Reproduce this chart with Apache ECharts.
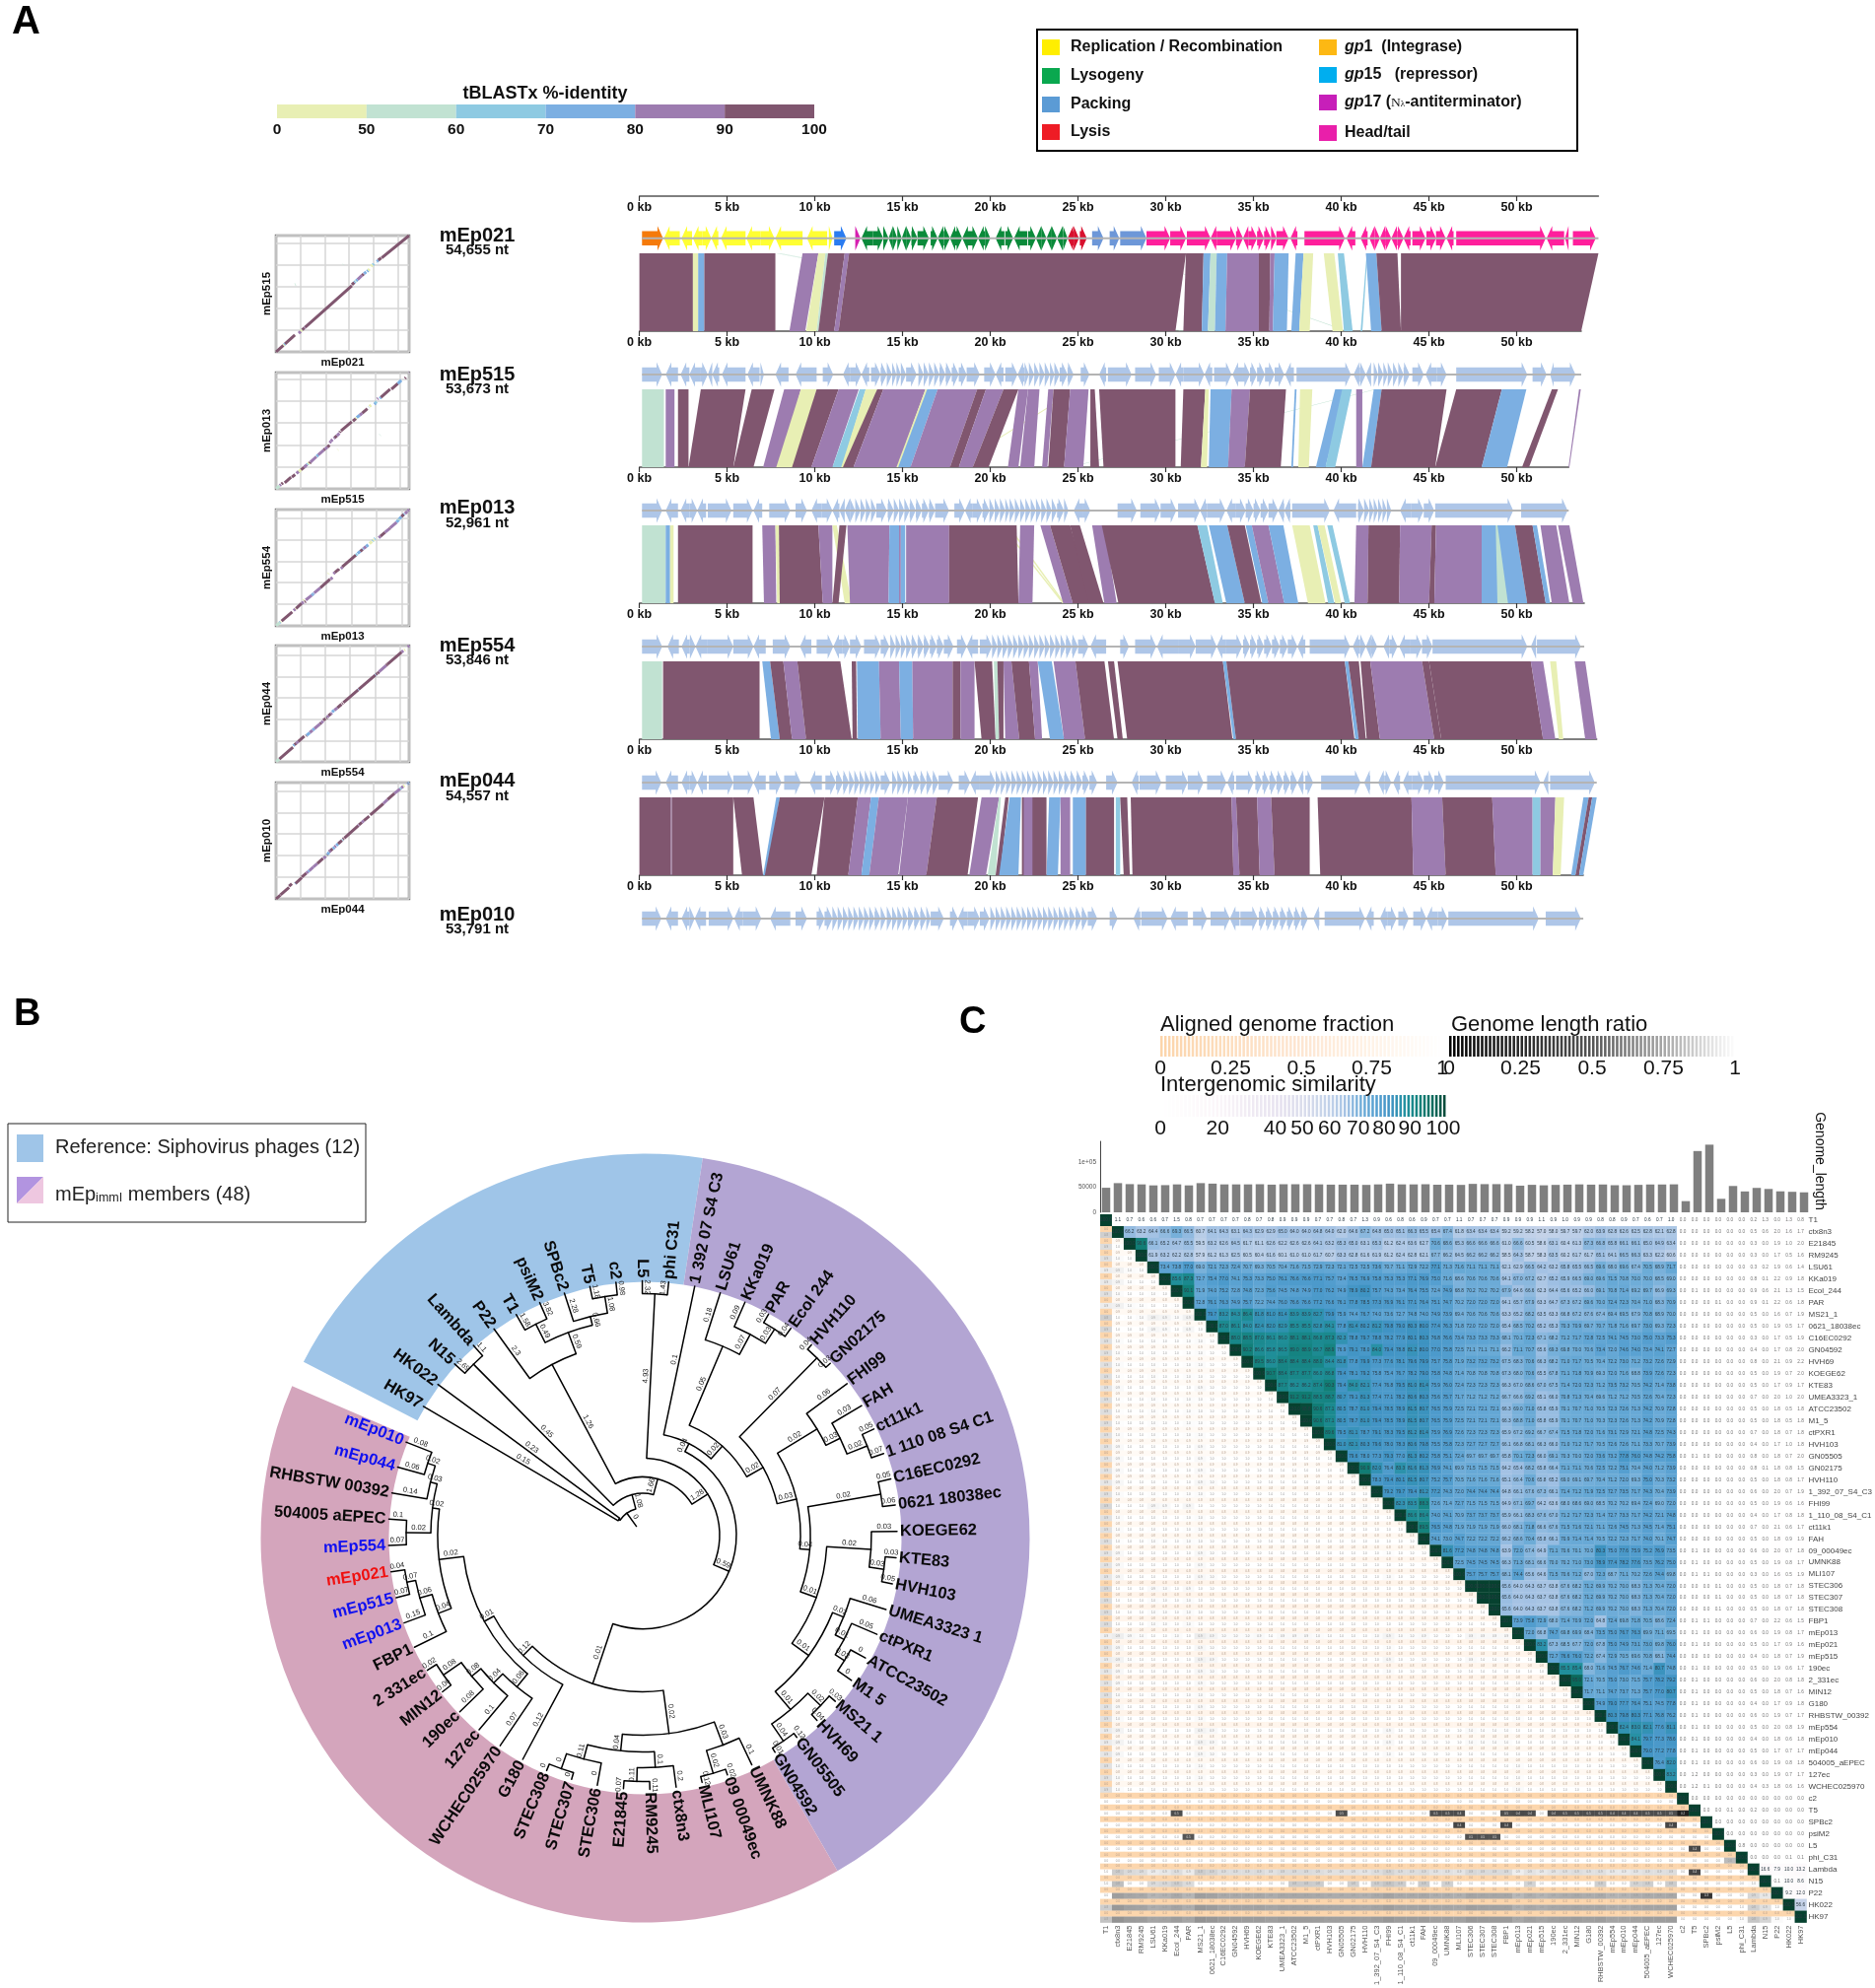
<!DOCTYPE html>
<html><head><meta charset="utf-8"><style>html,body{margin:0;padding:0;background:#fff}#c{width:1902px;height:2017px}</style>
<script src="https://cdn.jsdelivr.net/npm/echarts@6/dist/echarts.min.js"></script></head><body><div id="c"></div>
<script>
const FONT='"Liberation Sans",Arial,sans-serif';
// ---------- Panel A data ----------
const identityTicks=['0','50','60','70','80','90','100'];
const identityColors=['#e8efb4','#c1e2d2','#8ecae2','#7cafe2','#9d7cb0','#80566f'];
const genomeNames=['mEp021','mEp515','mEp013','mEp554','mEp044','mEp010'];
const genomeSizesKb=[54.655,53.673,52.961,53.846,54.557,53.791];
const genomeSizeLabels=['54,655 nt','53,673 nt','52,961 nt','53,846 nt','54,557 nt','53,791 nt'];
const kbTicks=[0,5,10,15,20,25,30,35,40,45,50];
// ribbons: [query start, query end, subject start, subject end, identity class]
const ribbons1=[[7.8,7.9,31,31.05,1],[7.95,8.05,31,31.05,1],[27.6,27.65,40.3,40.4,1],[0,3.05,0,3.05,5],[3.05,3.35,3.05,3.35,0],[3.35,3.7,3.35,3.7,3],[3.7,7.75,3.7,7.75,5],[9.3,10.2,8.55,9.45,4],[10.2,10.6,9.5,10.1,0],[10.6,10.75,10.1,10.2,1],[10.75,11.7,10.2,11.1,5],[11.7,11.95,11.1,11.35,4],[11.95,31.15,11.35,30.55,5],[31.15,32.15,31,32.05,5],[32.15,32.55,32.05,32.4,3],[32.55,32.9,32.4,32.8,1],[32.9,33.5,32.8,33.4,3],[33.5,35.3,33.4,35.3,4],[35.3,35.95,35.3,35.9,5],[35.95,36.2,35.9,36.1,4],[36.2,37,36.1,36.9,3],[37.4,37.85,37.15,37.6,3],[37.85,38.4,37.6,38.2,0],[39,39.6,39.5,40.1,0],[39.8,40.15,40.15,40.65,2],[41.45,41.5,41.1,41.2,2],[41.4,42,41.7,42.3,3],[42,43.2,42.3,43.4,5],[43.4,54.655,43.4,53.673,5]];
const ribbons2=[[41.9,42,24.5,24.6,1],[24.9,25,17.8,17.9,0],[0.15,1.4,0.15,1.4,1],[1.5,2,1.5,2,4],[2.2,2.8,2.2,2.8,5],[3.5,6.05,2.8,5.35,5],[6.4,7.7,5.35,6.5,5],[8.25,9.2,7.05,8.05,4],[9.2,10.1,7.8,8.8,0],[10.1,11.35,8.7,9.8,5],[11.35,11.9,9.8,10.35,4],[11.5,12.5,10,11,4],[12.55,12.9,11,11.55,2],[12.9,13.55,11.5,12,0],[13.55,13.9,11.6,12.2,5],[13.9,16.3,12.2,14.7,4],[16.3,16.45,14.65,14.85,0],[16.4,17,14.75,15.45,3],[17,19.25,15.45,17.7,4],[19.25,19.75,17.7,18.2,5],[19.75,20.75,18.2,19,4],[20.75,21.6,19,19.9,5],[21.6,22.15,21,21.6,4],[22.15,22.8,21.7,22.5,4],[23.3,23.6,22.95,23.25,4],[23.6,24.55,23.3,24.2,5],[24.55,25.6,24.2,25.3,4],[25.7,25.95,25.7,26.2,5],[26.2,30.55,26.45,30.55,5],[31,32.25,30.85,32,5],[32.25,32.45,32,32.35,0],[32.55,33.75,32.45,33.55,3],[33.75,34.8,33.55,34.5,4],[34.8,36.85,34.5,36.55,5],[37.35,37.45,37.15,37.25,3],[37.65,38.35,37.55,38.15,0],[39.65,40.2,38.55,39.1,3],[40.05,40.6,39.1,39.65,2],[40.85,41.2,40.85,41.2,4],[41.85,42.3,41.2,41.7,3],[42.3,46,41.7,45.35,5],[46.55,49.15,45.35,48,5],[49.15,50.55,48,49.45,3],[52,52.35,50.3,50.7,5],[53.55,53.65,52.95,53,4]];
const ribbons3=[[20.6,20.7,24.1,24.2,0],[20.95,21.05,24.15,24.25,0],[0.15,1.5,0.15,1.5,1],[1.5,1.75,1.5,1.75,3],[1.75,1.95,1.75,1.95,0],[2.2,6.45,2.2,6.45,5],[7,7.75,7.1,7.8,4],[7.75,7.95,7.85,8.05,0],[7.95,10.2,8,10.45,5],[10.2,11,10.45,11,4],[11,11.25,11.7,12.1,0],[11.4,11.8,11,11.35,5],[11.85,14.25,12,14.2,4],[14.25,14.8,14.2,14.8,3],[14.8,14.9,14.8,14.9,4],[14.9,15.15,14.9,15.15,3],[15.2,17.65,15.2,17.65,4],[17.65,21.5,17.65,21.6,5],[21.7,22.5,21.6,22.4,4],[22.85,23.4,24.15,24.7,4],[23.4,24.55,24.7,25.8,5],[24.55,25.1,25.6,26.45,5],[25.8,26.5,26.5,27.2,4],[26.35,31.8,27.3,32.8,5],[31.8,32.35,32.8,33.25,2],[32.45,33.5,33.45,34.5,3],[33.5,34.5,34.5,35.45,5],[34.55,34.9,35.5,35.85,3],[34.9,35.85,35.85,36.75,4],[35.85,36.7,36.75,37.55,3],[37.2,38.2,38.1,39.1,0],[38.4,38.65,39.25,39.6,2],[38.65,39.05,39.65,40,0],[39.2,39.5,40.2,40.5,2],[40.85,41.55,40.75,41.5,4],[41.55,43.35,41.5,43.3,5],[43.35,45.15,43.3,45,4],[45.15,45.4,45,45.3,5],[45.4,48,45.3,48,4],[48,49.9,48,50.6,3],[48.8,48.9,48.9,49.5,1],[49.9,50.9,50.6,51.65,5],[50.9,51.15,51.65,51.9,3],[51.35,52.25,52,53,4],[52.35,53,53.2,53.8,4]];
const ribbons4=[[0.15,1.3,0.15,1.3,1],[1.35,6.85,1.35,6.85,5],[7,7.45,7.5,8,3],[7.45,8.2,8,8.7,5],[8.2,9,8.7,9.5,4],[9,11.45,9.5,12.1,5],[12.1,12.35,12.15,12.4,5],[12.4,13.65,12.45,13.75,3],[13.65,14.8,13.75,14.9,4],[14.8,15.55,14.9,15.6,3],[15.55,17.85,15.6,17.85,4],[17.85,18.3,17.85,18.3,5],[18.3,19.1,18.3,19.1,4],[19.1,20.1,19.5,20.3,5],[20.2,20.4,20.3,20.5,1],[20.4,20.75,20.5,20.75,5],[20.75,21.2,20.85,21.65,4],[21.2,22.2,21.65,22.55,5],[22.2,22.7,22.55,22.95,4],[22.7,23.5,23.4,24.2,3],[23.6,24.85,24.2,25.4,4],[24.85,26.5,25.4,27.05,5],[26.7,27.05,27.25,27.55,5],[27.25,33.25,27.8,33.8,5],[33.25,33.45,33.85,34,3],[33.45,40.2,34,40.75,5],[40.2,40.4,40.8,41,3],[40.4,41,41,41.4,5],[41.1,41.65,41.45,42.2,5],[41.65,44.6,42.2,45.3,4],[44.6,45,45.3,45.7,5],[45,50.8,45.7,51.5,5],[50.8,51.5,51.5,52.2,4],[51.9,52.25,52.4,52.65,0],[53.3,53.9,53.9,54.557,4]];
const ribbons5=[[0,1.8,0,1.8,5],[1.8,1.85,1.8,1.85,4],[1.85,5.35,1.85,5.35,5],[5.35,6.5,5.85,7.05,5],[7.8,8,7.05,7.25,3],[8,10.55,7.15,9.8,5],[10.55,12.45,10.1,11.9,5],[12.45,13.2,11.9,12.65,4],[13.2,13.65,12.65,13.1,3],[13.65,15.3,13.1,14.75,4],[15.3,16.95,14.8,16.35,4],[16.95,19.3,16.35,18.7,5],[19.5,20.5,18.8,19.75,4],[20.5,20.6,19.85,20.3,1],[20.85,21.05,20.3,20.55,5],[21.1,21.75,20.5,21.6,3],[21.8,23.2,21.8,23.2,5],[21.9,22.4,21.9,22.4,4],[23.35,24,23.2,23.85,3],[24,24.55,24,24.55,4],[24.7,25.45,24.7,25.45,3],[25.45,27.05,25.45,27.05,5],[27.15,27.4,27.15,27.4,2],[27.4,27.8,27.6,27.95,5],[28,33.75,28.1,33.85,5],[33.75,34,33.85,34.2,4],[34,35.2,34.2,35.35,5],[35.2,36,35.35,36.2,4],[36,38.2,36.2,38.2,5],[38.65,44,38.8,44.1,5],[44,45.75,44.1,45.95,4],[45.75,48.6,45.95,48.8,5],[48.6,50.9,48.8,50.9,4],[50.9,51.35,50.9,51.35,2],[51.35,52.2,51.35,52.05,4],[52.2,52.7,52.05,52.5,0],[53.8,54.1,53.1,53.35,3],[54.1,54.3,53.35,53.55,5],[54.3,54.557,53.55,53.791,3]];
const geneColors=['#f57a0a','#ffff33','#2b7cf0','#d61fb0','#0a8a3a','#d8102e','#6d97d8','#ff1f9c','#aec6e8'];
// genes: [start, end, strand (default +), colour class (default light blue)]
const genes1=[[0.15,1.35,1,0],[1.4,2.3,-1,1],[2.4,3,-1,1],[3.05,3.6,-1,1],[3.6,4.1,1,1],[4.1,4.5,-1,1],[4.65,6.05,-1,1],[6.1,6.9,-1,1],[6.9,7.7,1,1],[7.75,9.3,-1,1],[9.55,10.7,-1,1],[10.8,11,1,1],[11.1,11.8,1,2],[12.3,12.6,1,3],[12.65,13.3,-1,4],[13.3,13.9,1,4],[13.9,14.2,1,4],[14.2,14.45,-1,4],[14.45,14.7,1,4],[14.7,14.95,1,4],[14.95,15.2,-1,4],[15.2,15.5,1,4],[15.5,15.85,1,4],[15.85,16.5,1,4],[16.6,17,1,4],[17,17.35,-1,4],[17.35,17.7,1,4],[17.7,18,-1,4],[18,18.4,1,4],[18.4,18.9,-1,4],[18.9,19.3,1,4],[19.3,19.7,-1,4],[19.7,20,1,4],[20.3,20.8,-1,4],[20.85,21.3,1,4],[21.35,22.1,-1,4],[22.15,22.6,1,4],[22.6,22.9,-1,4],[22.9,23.2,1,4],[23.2,23.5,-1,4],[23.5,23.8,1,4],[23.8,24.15,-1,4],[24.15,24.4,1,4],[24.4,24.75,-1,5],[24.75,25.05,1,5],[25.1,25.5,1,5],[25.8,26.45,1,6],[26.8,27.35,1,6],[27.4,28.9,1,6],[28.9,30.25,1,7],[30.25,31.15,1,7],[31.2,32.55,1,7],[32.55,32.9,-1,7],[32.9,34,1,7],[34,34.4,1,7],[34.4,34.7,-1,7],[34.7,35.2,1,7],[35.2,35.6,1,7],[35.6,36,1,7],[36,36.3,1,7],[36.3,37,1,7],[37.1,37.5,-1,7],[37.9,40.2,1,7],[40.3,40.8,-1,7],[41.1,41.5,-1,7],[41.6,41.9,-1,7],[41.9,42.2,1,7],[42.2,42.5,-1,7],[42.5,42.85,1,7],[42.85,43.2,-1,7],[43.2,43.55,1,7],[43.55,43.95,-1,7],[44.05,44.8,1,7],[44.85,45.4,1,7],[45.4,45.95,1,7],[46,46.4,-1,7],[46.55,51.65,1,7],[51.7,52.7,-1,7],[52.75,52.95,-1,7],[53.2,54.5,1,7]];
const genes2=[[0.15,1.3],[1.5,2.2,-1],[2.35,2.85,-1],[2.85,3.5,-1],[3.5,3.9],[3.9,4.15,-1],[4.15,4.55,-1],[4.7,6.05,-1],[6.15,6.85,-1],[6.9,7.1],[7.75,8.5,-1],[8.9,10.1,-1],[10.45,11.05],[11.6,12,-1],[12,12.65],[12.65,13.1,-1],[13.2,13.75],[13.75,14.1],[14.1,14.4],[14.4,14.65],[14.65,14.9],[14.9,15.2],[15.2,15.8],[15.9,16.2],[16.2,16.5],[16.5,16.8],[16.8,17.1],[17.1,17.45],[17.45,17.8],[17.8,18.2],[18.2,18.65],[18.65,19.4],[19.65,20.3],[20.3,20.75,-1],[20.85,21.55],[21.55,21.95,-1],[21.95,22.2],[22.2,22.5],[22.5,22.8],[22.8,23.1],[23.1,23.4],[23.4,23.65],[23.65,23.95],[23.95,24.4],[24.4,24.75],[25.15,25.65],[26.2,26.6,-1],[26.7,28.05],[28.25,29.45],[29.6,30.55],[30.55,31,-1],[31,32.2],[32.2,32.65,-1],[32.75,33.75],[33.8,34.35,-1],[34.35,34.8],[34.8,35.2],[35.2,35.65],[35.65,36.2],[36.2,36.75],[36.8,37.3,-1],[37.45,40.55],[40.7,41.05,-1],[41.05,41.4],[41.4,41.7,-1],[41.85,42.1],[42.1,42.4],[42.4,42.65],[42.65,42.95],[42.95,43.25],[43.25,43.55],[43.55,43.9],[44.05,44.7],[44.8,45.45,-1],[45.45,46],[46.55,50.6],[50.9,51.7],[51.9,52.1,-1],[52.1,53.35]];
const genes3=[[0.15,1.3],[1.5,2.2,-1],[2.35,2.85,-1],[2.85,3.3],[3.3,3.8,-1],[3.9,5.25],[5.35,6.45],[6.5,7,-1],[7.4,8.6],[8.9,9.55],[9.8,10.4,-1],[10.4,11],[11,11.4,-1],[11.4,11.7,-1],[11.7,12,-1],[12,12.3],[12.3,12.6],[12.6,12.9],[12.9,13.2],[13.2,13.5],[13.5,14.1],[14.15,14.5],[14.5,14.8],[14.8,15.1],[15.1,15.4],[15.4,15.75],[15.75,16.1],[16.1,16.5],[16.5,16.85],[16.85,17.65],[17.95,18.55],[18.55,19,-1],[19,19.55],[19.55,19.95],[19.95,20.25],[20.25,20.55],[20.55,20.85],[20.85,21.1],[21.1,21.4],[21.4,21.7],[21.7,22],[22,22.3],[22.3,22.6],[22.6,22.9],[22.9,23.2],[23.2,23.5],[23.5,23.8],[23.8,24.2],[24.2,24.45],[24.75,25.25,-1],[25.25,25.7],[27.25,28.35],[28.55,29.7],[29.7,30.6],[30.7,31.95],[31.95,32.35,-1],[32.35,33.4],[33.45,34,-1],[34,34.55],[34.55,35],[35,35.4],[35.4,35.85],[35.85,36.4],[36.4,36.75,-1],[36.75,37.1,-1],[37.2,39.35],[39.55,40.85,-1],[40.95,41.3],[41.3,41.6],[41.6,41.85],[41.85,42.1],[42.1,42.35],[42.35,42.6],[42.6,42.85],[43.35,44,-1],[44,44.7],[44.7,45.3],[45.35,49.8],[50.25,52.9]];
const genes4=[[0.15,1.3],[1.6,2.25,-1],[2.4,2.85,-1],[2.85,3.2],[3.2,3.85,-1],[3.85,5.35],[5.35,6.5],[6.5,7.2,-1],[7.6,8.6],[9.15,9.8,-1],[10.1,11.05],[11.05,11.55,-1],[11.55,12],[12,12.65],[12.8,13.75],[13.75,14.25],[14.3,14.6],[14.6,14.9],[14.9,15.2],[15.2,15.5],[15.5,15.85],[15.85,16.2],[16.2,16.55],[16.55,16.95],[16.95,17.35],[17.35,17.9],[18.1,18.65],[18.65,19.3,-1],[19.4,20.1],[20.1,20.4],[20.4,20.7],[20.7,21],[21,21.3],[21.3,21.6],[21.6,21.9],[21.9,22.2],[22.2,22.5],[22.5,22.8],[22.8,23.1],[23.1,23.4],[23.4,23.7],[23.7,24],[24,24.3],[24.3,24.65],[24.65,25],[25,25.6],[25.7,26.6,-1],[27.4,27.9],[28.25,29.45],[29.5,30.7,-1],[30.7,31.7],[31.7,32.9],[32.9,33.4,-1],[33.4,34.35],[34.4,34.8],[34.8,35.2],[35.2,35.6],[35.6,36.05],[36.05,36.5],[36.5,36.95],[36.95,37.5],[37.5,37.95,-1],[38.2,40.5],[40.65,41.05,-1],[41.05,41.4],[41.4,41.7,-1],[41.7,42.05],[42.4,42.75,-1],[42.75,43.2],[43.3,43.95,-1],[43.95,44.6],[44.6,45.2],[45.2,50.6],[50.8,51.1,-1],[51.15,53.65]];
const genes5=[[0.15,1.25],[1.5,2.2,-1],[2.4,2.85,-1],[2.85,3.3],[3.3,3.85,-1],[3.95,5.35],[5.35,6.5],[6.5,7.2,-1],[7.4,8.1],[8.25,9.2],[9.7,10.4,-1],[10.6,11.2],[11.2,11.6],[11.6,11.95],[11.95,12.25],[12.25,12.55],[12.55,12.85],[12.85,13.15],[13.15,13.45],[13.45,13.75],[13.75,14.3],[14.4,14.7],[14.7,15],[15,15.3],[15.3,15.6],[15.6,16],[16,16.35],[16.35,16.7],[16.7,17.05],[17.05,17.9],[18.2,18.85],[18.85,19.4,-1],[19.4,20.3],[20.3,20.6],[20.6,20.9],[20.9,21.2],[21.2,21.5],[21.5,21.8],[21.8,22.1],[22.1,22.4],[22.4,22.7],[22.7,23],[23,23.3],[23.3,23.6],[23.6,23.9],[23.9,24.2],[24.2,24.55],[24.55,24.9],[24.9,25.25],[25.25,25.65],[25.65,26.1],[26.6,27.25],[28.05,28.45,-1],[28.5,29.75],[30,31.25],[31.25,32.15],[32.35,33.45],[33.5,33.9,-1],[34,35],[35.1,35.5],[35.5,35.9],[35.9,36.3],[36.3,36.7],[36.7,37.1],[37.1,37.5],[37.5,37.85,-1],[37.95,38.4],[38.85,41.1],[41.3,41.65,-1],[42.1,42.45,-1],[42.45,42.85],[42.95,43.35,-1],[43.5,44.05,-1],[44.05,44.7],[44.7,45.3],[45.3,45.85],[45.95,51.35],[51.5,51.8,-1],[51.9,54.45]];
const genes6=[[0.15,1.25],[1.5,2.2,-1],[2.4,2.85,-1],[2.85,3.15],[3.15,3.8,-1],[3.95,5.35],[5.4,5.9,-1],[5.9,6.95],[7.45,8.6,-1],[8.9,9.55],[10.1,10.55],[10.55,11],[11,11.3],[11.3,11.6],[11.6,11.9],[11.9,12.2],[12.2,12.5],[12.5,12.8],[12.8,13.1],[13.1,13.4],[13.4,13.75],[13.75,14.05],[14.1,14.4],[14.4,14.7],[14.7,15],[15,15.3],[15.3,15.65],[15.65,16],[16,16.35],[16.35,16.6],[16.6,17.35],[17.7,18.15],[18.15,18.7,-1],[18.7,19.4],[19.4,19.95],[20,20.3],[20.3,20.6],[20.6,20.9],[20.9,21.2],[21.2,21.5],[21.5,21.8],[21.8,22.1],[22.1,22.4],[22.4,22.7],[22.7,23],[23,23.3],[23.3,23.6],[23.6,23.9],[23.9,24.2],[24.2,24.5],[24.5,24.85],[24.85,25.2],[25.2,25.55],[25.55,26.1],[26.8,27.25],[28.15,28.55,-1],[28.6,30.1],[30.25,31.25,-1],[31.55,32.35],[32.55,33.65],[33.65,34.2,-1],[34.25,35.25],[35.3,35.7],[35.7,36.1],[36.1,36.5],[36.5,36.9],[36.9,37.3],[37.3,37.7],[37.7,38.1],[38.4,38.75,-1],[39.05,41.35],[41.4,41.85,-1],[42.2,42.65,-1],[42.65,43.15],[43.25,43.85],[44.1,44.85],[44.85,45.5,-1],[45.5,46.05],[46.1,51.25],[51.65,53.65]];
// ---------- Panel B data ----------
const cladeSpans=[71.3,141.4,143.3,4];
const cladeColors=['#9fc5e8','#b3a5d3','#d4a5bc','rgba(0,0,0,0)'];
const highlightBlue=['mEp010','mEp044','mEp554','mEp515','mEp013'];
const highlightRed=['mEp021'];
// tree node: [branch label, node radius, ...children]; leaf: [branch label, name]
const treeRoot=['0',27.5,
 ['',29,['0.15','HK97'],['0.23','HK022']],
 ['1.08',42.5,
  ['0.45',244,['2.69','N15'],['1.1','Lambda']],
  ['1.66',59,
   ['1.26',196,['2.3','P22'],['0.59',219,['0.49',240,['1.58','T1'],['3.82','psiM2']],['0.66',228,['2.28','SPBc2'],['1.08',245,['1.18','T5'],['0.98','c2']]]]],
   ['1.28',78,
    ['4.93',245,['2.32','L5'],['1.43','phi C31']],
    ['0.59',95,
     ['0.04',104,['0.1','1 392 07 S4 C3'],
      ['0.02',121,
       ['0.05',208,['0.18','LSU61'],['0.07',231,['0.09','KKa019'],['0.03',248,['0.03','PAR'],['0.04','Ecol 244']]]],
       ['0.02',140,
        ['0.07',252,['0.04','HVH110'],['0.03','GN02175']],
        ['0.03',160,
         ['0.02',207,['0.06','FHI99'],['0.03',223,['0.03','FAH'],['0.02',245,['0.05','ct11k1'],['0.07','1 110 08 S4 C1']]]],
         ['0.04',170,
          ['0.02',245,['0.05','C16EC0292'],['0.06','0621 18038ec']],
          ['0.01',187,
           ['0.02',232,['0.03','KOEGE62'],['0.03',247,['0.03','KTE83'],['0.05','HVH103']]],
           ['0.01',208,
            ['0.02',220,['0.06','UMEA3323 1'],['0.01',230,['0.05','ctPXR1'],['0.03',241,['0','ATCC23502'],['0','M1 5']]]],
            ['0.01',232,['0.02',250,['0.03','MS21 1'],['0.04','HVH69']],['0.04',253,['0.12','GN05505'],['0.01','GN04592']]]
           ]]]]]]],
     ['0.01',159,
      ['0.02',203,
       ['0.03',228,['0.1','UMNK88'],['0.02',252,['0.02','09 00049ec'],['0.12','MLI107']]],
       ['0.04',220,['0.1',236,['0.2','ctx8n3'],['0.11',250,['0.11','RM9245'],['0.07','E21845']]],['0.11',235,['0','STEC306'],['0',251,['0','STEC307'],['0','STEC308']]]]],
      ['0.12',172,['0.12','G180'],
       ['0.01',183,
        ['0.06',200,['0.07','WCHEC025970'],['0.04',213,['0.1','127ec'],['0.08',225,['0.08','190ec'],['0.08',247,['0.06','MIN12'],['0.02','2 331ec']]]]],
        ['0.02',208,
         ['0.04',222,['0.1','FBP1'],['0.06',235,['0.15','mEp013'],['0.07',244,['0.07','mEp515'],['0.04','mEp021']]]],
         ['0.02',215,['0.02',240,['0.07','mEp554'],['0.1','504005 aEPEC']],['0.03',222,['0.14','RHBSTW 00392'],['0.02',230,['0.06','mEp044'],['0.08','mEp010']]]]
        ]]]]]]]]];
const leafFirstAngle=149.6, leafAngleStep=5.95, leafTipRadius=258, rootRadius=11;
// ---------- Panel C data ----------
const phageNames=['T1','ctx8n3','E21845','RM9245','LSU61','KKa019','Ecol_244','PAR','MS21_1','0621_18038ec','C16EC0292','GN04592','HVH69','KOEGE62','KTE83','UMEA3323_1','ATCC23502','M1_5','ctPXR1','HVH103','GN05505','GN02175','HVH110','1_392_07_S4_C3','FHI99','1_110_08_S4_C1','ct11k1','FAH','09_00049ec','UMNK88','MLI107','STEC306','STEC307','STEC308','FBP1','mEp013','mEp021','mEp515','190ec','2_331ec','MIN12','G180','RHBSTW_00392','mEp554','mEp010','mEp044','504005_aEPEC','127ec','WCHEC025970','c2','T5','SPBc2','psiM2','L5','phi_C31','Lambda','N15','P22','HK022','HK97'];
const genomeLengths=[48800,58000,56000,55500,53500,54000,55500,53500,58000,57000,55500,55500,55500,55800,55000,55800,55800,55800,55500,55000,55000,55000,54500,55500,57000,55500,55500,55800,54800,55000,54500,56500,56000,56000,56000,52961,54655,53673,54500,55000,55500,55000,55300,53846,53791,54557,55300,55300,55600,22200,121750,134400,26800,52300,41500,48500,46400,41700,40750,39700];
// similarity of row r with columns r+1 .. 48
const simRows=[
[1.1,.7,.6,.6,.7,1.5,.8,.7,.7,.7,.7,.8,.7,.8,.9,.9,.9,.7,.7,.8,.7,1.3,.9,.6,.8,.6,.9,.7,.7,1.1,.7,.7,.7,.9,.9,.9,1.1,.9,1,.9,.9,.8,.8,.9,.7,.6,.7,1],
[66.2,63.2,64.4,66.6,69.3,66.5,60.7,64.1,64.3,63.1,64.3,62.9,62.9,65,64,64,64.8,64,62,64.6,67.2,64.8,65,65.1,66.3,65.5,65.4,67.4,61.8,63.4,63.4,63.4,59.2,59.2,58.2,57,58,59.7,59.7,62,63.9,62.8,62.6,62.5,62.8,62.1,62.8],
[90.6,66.1,65.2,64.7,65.5,59.5,63.2,62.6,64.5,61.7,61.1,62.6,62.2,62.6,62.6,64.1,63.2,65.3,65,63.1,65.3,61.2,62.4,63.6,62.7,70.6,68.6,65.3,66.6,66.6,66.6,61,66.6,60.5,58.6,63.1,60.4,61.3,67.3,66.8,65.8,66.1,66.1,65,64.9,63.4],
[61.9,63.2,62.2,62.8,57.9,61.2,61.3,62.5,60.5,60.4,61.6,60.1,61,61,61.7,60.7,63.3,62.8,61.6,61.9,61.2,62.4,62.8,62.1,67.7,66.2,64.5,66.2,66.2,66.2,58.5,64.3,58.7,58.3,63.5,60.2,61.7,61.7,65.1,64.1,66.5,66.3,63.3,62.2,60.6],
[73.4,73.8,77,69,72.1,72.3,72.4,70.7,69.3,70.5,70.4,71.6,71.5,72.9,72.3,72.1,72.5,72.5,73.6,70.7,71.1,72.9,72.2,77.1,71.3,71.6,71.1,71.1,71.1,62.1,62.9,66.5,64.2,63.2,65.8,65.5,66.5,69.6,68,69.6,67.4,70.5,68.9,71.7],
[85.6,87.3,72.7,75.4,77,74.1,75.3,73.3,75,76.1,76.6,76.6,77.1,75.7,73.4,76.5,76.9,75.8,75.3,75.3,77.1,76.9,75,71.6,68.6,70.6,70.6,70.6,64.1,67,67.2,62.7,65.2,65.9,66.5,69,69.6,71.5,70.8,70,70,68.5,69],
[90.1,71.9,74,75.2,72.8,74.8,72.3,75.6,74.5,74.8,74.9,77,76.2,74.9,78.9,80.2,75.7,74.3,73.4,76.4,75.5,72.4,74.9,68.8,70.2,70.2,70.2,67.9,64.6,66.6,62.3,64.4,65.6,65.2,66,69.1,70.8,71.4,69.2,69.7,66.9,69.3],
[72.8,76.1,76.3,74.9,75.7,72.2,74.4,76,76.6,76.6,77.2,76.6,76.1,77.8,78.5,77.3,76.9,76.1,77.1,76.4,75.1,74.7,70.2,72,72,72,64.1,65.7,67.9,63.3,64.7,67.3,67.2,69.6,70,72.4,72.3,70.4,71,68.3,70.9],
[79.7,83.2,84.3,86.4,81.8,81,81.4,83.9,83.9,82.7,79.9,75.9,74.4,76.7,74,73.6,72.7,74.8,74,74.9,73.9,69.4,70.6,70.6,70.6,63.3,65.2,68.2,63.5,63.3,66.8,67.2,67.6,67.4,69.4,69.5,67.9,70.8,68.9,70],
[87,86.1,84,82.4,82,82.9,85.5,85.5,82.8,84.1,77.8,81.4,80.2,81.2,79.8,79,80.3,80,77.4,76.3,71.8,72,72,72,65.4,68.5,70.2,65.2,65.3,70.3,70.9,69.7,70.7,71.8,71.6,69.7,73,69.3,72.3],
[88,88.5,87,86.1,86,88.1,88.1,86.8,87.3,82.3,78.8,79.7,78.8,78.2,77.9,80.1,80.3,76.8,76.6,73.4,73.3,73.3,73.3,68.1,70.1,72.3,67.1,68.2,71.2,71.7,72.8,72.5,74.1,74.5,73,75,73.3,75.3],
[90.2,86.6,85.8,86.5,89,88.9,86.7,88.9,76.9,79.1,78,84,79.4,78.8,81.2,80,77,75.8,72.5,71.1,71.1,71.1,66.2,71.1,70.7,65.6,69.3,69.8,70,70.6,73.4,72,74.6,74,73.4,74.1,72.7],
[89.5,86,88.4,88.4,88.4,88,84.4,81.8,77.8,79.9,77.3,77.6,78.1,79.6,79.9,75.7,75.8,71.9,73.2,73.2,73.2,67.5,68.3,70.6,66.3,68.2,71,71.7,70.5,70.4,72.2,73,71.2,73.2,72.6,72.9],
[90.7,88.4,87.7,87.7,86,86.8,79.4,78.1,79.2,75.8,75.4,76.7,78.2,79,75.8,74.8,71.4,70.8,70.8,70.8,67.3,68,70.6,65.5,67.8,71.1,71.8,70.9,69.3,72,71.6,68.8,73.9,72.6,72.3],
[87.7,86.2,86.2,87.4,90.3,79.4,84,82.1,77.4,76.8,79.5,81,81.4,75.9,76,72.4,72.3,72.3,72.3,66.3,67,68.6,67,67.5,71.4,72,72.3,71.2,73.5,73.2,70.5,74.2,71.4,73.8],
[91.2,91.2,88.5,88.7,80.7,79.1,81.3,77.4,77.1,78.2,80.6,80.3,75.6,75.7,71.7,71.2,71.2,71.2,66.7,66.6,69.2,65.1,66,70.8,71.3,70.4,69.6,71.2,71.2,70.5,72.6,70.4,72.3],
[98.8,90.6,87.1,80.5,78.7,81,79.4,78.5,78.9,81.5,80.7,76.5,75.9,72.5,72.1,72.1,72.1,66.3,69,71,65.8,65.9,70.1,70.7,71,70.5,72.3,72.6,71.3,74.2,70.9,72.8],
[90.6,87.1,80.5,78.7,81,79.4,78.5,78.9,81.5,80.7,76.5,75.9,72.5,72.1,72.1,72.1,66.3,68.8,71,65.8,65.9,70.1,70.7,71,70.3,72.3,72.6,71.3,74.2,70.9,72.8],
[89.6,79.5,81.1,78.7,79.1,78.3,79.5,81.2,81.4,75.9,76.9,72.6,72.3,72.3,72.3,65.9,67.2,69.2,66.7,67.4,71.5,71.8,72,71.6,73.1,72.9,72.1,74.8,72.5,74.3],
[81,82.1,80.3,79.6,78,78.3,80.6,79.8,75.5,75.8,72.3,72.7,72.7,72.7,66.1,66.8,68.1,66.3,66,71,71.2,71.7,70.5,72.6,72.6,71.1,73.3,70.7,73.9],
[79.6,78,77.3,79.3,77,81.3,80.2,75.8,75.1,72.4,69.7,69.7,69.7,65.8,70.1,72.3,66,69.1,70.3,70,72,73.6,73.2,77.8,76,74.8,74.2,75.8],
[90.9,82,76.4,83.3,81.6,81.3,76.9,74.1,69.9,71.5,71.5,71.5,64.2,65.4,68.2,65.8,66.4,71.1,71.1,70.6,72.5,72.2,75.1,70.4,74,71.2,73.9],
[78.3,79.4,80.1,81.5,80.7,75.2,75.7,70.5,71.6,71.6,71.6,65.1,66.4,70.6,65.8,65.2,69,69.1,69.7,70.4,71.2,72,69.3,75,70.3,73.2],
[79.2,79.7,79.4,81.2,77.2,74.3,72,74.4,74.4,74.4,64.8,66.1,67.6,67.3,66.1,71.4,71.2,71.9,72.5,72.7,73.5,71.7,74.3,70.4,73.9],
[82.3,83.5,88.3,72.6,71.4,72.7,71.5,71.5,71.5,64.9,67.1,69.7,64.2,63.6,68,68.6,69,68.5,70.2,70.2,69.4,72.4,69,72],
[86.6,86.4,74,74.1,70.9,73.7,73.7,73.7,65.9,66.1,68.3,67.6,67,71.2,71.7,72.3,71.4,72.7,73.3,71.7,74.2,72.1,74.8],
[89.5,76.5,74.8,71.9,71.9,71.9,71.9,66,68.1,71.8,66.6,67.6,71.5,71.6,72.1,71.1,72.6,74.5,71.3,74.5,71.4,75.1],
[74.1,73,74.7,72.2,72.2,72.2,66.2,68.6,70.4,65.8,66.1,70.9,71.4,71.4,70.5,72.2,72.3,71.7,74,70.1,74.7],
[81.6,77.2,74.8,74.8,74.8,63.9,72,67.4,64.9,71.1,70.6,70.1,70,80.3,75,77.6,75.9,75.2,76.9,73.5],
[72.5,74.5,74.5,74.5,66.3,71.3,68.1,66.6,70,70.2,71,73,78.9,77.4,78.2,77.6,73.5,76.2,75],
[75.7,75.7,75.7,68.1,74.4,65.6,64.6,71.5,70.6,71.2,67,72.3,68.7,71.1,70.2,72.6,74.4,69.8],
[100,100,65.6,64,64.3,63.7,63.8,67.6,68.2,71.2,69.9,70.2,70,68.3,71.3,70.4,72],
[100,65.6,64,64.3,63.7,63.8,67.6,68.2,71.2,69.9,70.2,70,68.3,71.3,70.4,72],
[65.6,64,64.3,63.7,63.8,67.6,68.2,71.2,69.9,70.2,70,68.3,71.3,70.4,72],
[73.9,75.8,72.9,68,71.4,70.9,72,64.8,72.4,69.8,71.8,70.5,68.6,72.4],
[72,66.8,74.7,69.8,69.9,68.4,73.5,75,76.7,76.3,69.9,71.1,69.5],
[83.2,67.3,68.5,67.7,72,67.8,75,74.9,73.1,73,69.8,76],
[72.7,76.6,76,72.2,67.4,72.9,70.5,69.6,70.8,68.1,74.4],
[85.5,85.4,68,71.6,74.5,76.7,74.6,71.4,80.7,74.8],
[95,72.1,70.5,75,73,71.5,75.7,78.2,79.2],
[71.7,71.1,74.7,73.7,71.3,75.7,77,80.7],
[74.9,79,77.7,76.4,75.1,74.5,77.8],
[80.3,79.8,80.3,77.1,76.8,76.2],
[82.4,83,82.1,77.6,81.1],
[84.1,79.7,77.3,78.6],
[79,77.2,77.8],
[76.4,82],
[83.2],
[]];
// similarity of rows 0..48 with columns 49..59
const simRefCols=[
[0,0,0,0,0,0,.2,1.3,0,1.3,.8],[0,0,0,0,0,0,.5,.6,2,1.6,1.7],[0,0,0,0,0,0,.3,0,1.9,1,2],[0,0,0,0,0,0,.3,0,1.7,.5,1.6],[0,0,0,0,0,0,.3,.2,1.9,.6,1.4],[0,0,0,0,0,0,.8,.1,2.2,.9,1.8],[0,.1,0,0,0,0,.9,.6,2.1,1.3,1.5],[0,0,0,.1,0,0,.9,.1,2.2,.6,1.8],[0,0,0,0,0,0,.5,0,1.6,.7,1.9],[0,0,0,0,0,0,.5,0,1.9,.5,1.7],
[0,0,0,0,0,0,.3,0,1.7,.5,1.9],[0,0,0,0,0,0,.4,0,1.7,.8,2],[0,0,0,0,0,0,.8,0,2.1,.9,2.2],[0,0,0,0,0,0,.5,0,1.9,.7,2],[0,0,0,0,0,0,.5,0,1.7,.9,1.7],[0,0,0,0,0,0,.7,0,2,1,2],[0,0,0,0,0,0,.5,.04,1.8,.5,1.8],[0,0,0,0,0,0,.5,.04,1.8,.5,1.8],[0,0,0,0,0,0,.7,.04,1.8,.7,1.8],[0,0,0,0,0,0,.4,0,1.7,1,1.8],
[0,.1,0,0,0,0,.8,0,1.8,.7,2],[0,0,0,0,0,0,.8,.1,1.8,.8,1.5],[0,0,0,0,0,0,.5,0,1.8,.8,1.7],[0,0,0,0,0,0,.6,.04,2,.7,1.9],[0,0,0,0,0,0,.5,.04,1.9,.6,1.6],[0,0,0,0,0,0,.4,.04,1.7,.8,1.8],[0,0,0,0,0,0,.7,0,2.1,.6,1.7],[0,0,0,0,0,0,.5,.04,1.8,.9,1.9],[0,.1,0,0,0,0,.6,0,2,.7,1.8],[0,.1,0,0,0,0,.5,.04,1.9,.8,1.7],
[0,.1,.1,0,0,0,.3,0,1.6,.5,1.9],[0,0,0,.1,0,0,.5,0,1.8,.7,1.8],[0,0,0,.1,0,0,.5,0,1.8,.7,1.8],[0,0,0,.1,0,0,.5,0,1.8,.7,1.8],[0,.1,.1,0,0,0,.7,0,2.2,.6,1.5],[0,.1,0,0,0,0,.6,0,1.9,.8,1.7],[0,.1,0,0,0,0,.5,.04,1.7,.9,1.6],[0,0,0,0,0,0,.4,0,1.8,.7,1.9],[0,.1,0,0,0,0,.5,0,1.9,.6,1.7],[0,.1,0,0,0,0,.6,0,2,.8,1.8],
[0,.1,0,0,0,0,.5,0,1.8,.7,1.6],[0,.1,0,0,0,0,.4,0,1.7,.9,1.8],[0,.1,0,0,0,0,.6,.04,1.9,.7,1.7],[0,.1,0,0,0,0,.5,0,2,.8,1.9],[0,.1,0,0,0,0,.4,0,1.8,.6,1.8],[0,.1,0,0,0,0,.5,.04,1.7,.7,1.7],[0,.1,0,0,0,0,.6,.04,1.9,.8,1.8],[0,1.2,0,0,0,0,.3,0,1.9,.7,1.7],[0,1.2,.1,0,0,0,.4,.3,1.8,.6,1.6]];
// similarity among reference phages, row 49.. with columns r+1 .. 59
const simRefRows=[[.04,0,0,0,0,0,0,0,0,0],[0,0,.1,0,.2,0,0,0,0],[0,0,0,0,0,.04,0,0],[0,0,0,0,0,0,0],[.8,0,0,0,0,0],[0,0,0,.1,.1],[16.6,7.9,10,13.2],[.1,10,8.6],[9.2,12],[56.6],[]];
const alignedFractionByRow=[.03,.9,.9,.9,.85,.85,.85,.85,.88,.9,.9,.9,.9,.9,.9,.9,.9,.9,.9,.9,.9,.9,.9,.85,.85,.85,.85,.85,.85,.82,.82,.78,.78,.78,.8,.8,.8,.8,.8,.78,.78,.8,.78,.8,.85,.85,.85,.85,.85,.03,.03,.03,.03,.03,.03,.03,.03,.03,.03,.03];
const simKeyTicks=[0,20,40,50,60,70,80,90,100];
const simKeyTickPlaces=[0,20,40,49.5,59,69,78,87,98.6];
const simRampStops=[[0,'#ffffff'],[20,'#fbf6f9'],[40,'#e7e2ef'],[50,'#d9dcec'],[60,'#bccfe8'],[65,'#a0c0e3'],[70,'#6fadd8'],[75,'#559fd0'],[80,'#3f93c3'],[85,'#22919f'],[90,'#128079'],[95,'#0a6a5c'],[100,'#06412f']];
const fracRampStops=[[0,'#fcd5ab'],[.5,'#fde6d2'],[.75,'#fff3e7'],[1,'#ffffff']];
const ratioRampStops=[[0,'#000000'],[.5,'#555555'],[.75,'#a8a8a8'],[.88,'#e0e0e0'],[.93,'#f4f4f4'],[.97,'#ffffff'],[1,'#ffffff']];
// ---------- helpers ----------
function hex(c){return [1,3,5].map(i=>parseInt(c.substr(i,2),16));}
function ramp(stops,v){let i=0;if(v<=stops[0][0])return stops[0][1];while(i<stops.length-1&&v>stops[i+1][0])i++;if(i>=stops.length-1)return stops[stops.length-1][1];const a=stops[i],b=stops[i+1],t=(v-a[0])/(b[0]-a[0]),ca=hex(a[1]),cb=hex(b[1]);return 'rgb('+ca.map((x,k)=>Math.round(x+(cb[k]-x)*t)).join(',')+')';}
const grid=[],xAxis=[],yAxis=[],series=[];
function panel(g,xa,ya){grid.push(Object.assign({containLabel:false},g));const gi=grid.length-1;xAxis.push(Object.assign({gridIndex:gi},xa));yAxis.push(Object.assign({gridIndex:gi},ya));return gi;}
const hiddenVal=(min,max)=>({type:'value',min,max,show:false});
const PXKB=17.8,TRACK_LEFT=648.6;
const kbAxis=max=>({type:'value',min:0,max,axisLine:{show:true,lineStyle:{color:'#555',width:1.5}},axisTick:{show:true,length:5,customValues:kbTicks,lineStyle:{color:'#333',width:1.2}},axisLabel:{show:true,customValues:kbTicks,margin:5,formatter:v=>v+' kb',fontFamily:FONT,fontWeight:'bold',fontSize:12.5,color:'#111'},splitLine:{show:false}});
function custom(gi,data,renderItem,extra){series.push(Object.assign({type:'custom',xAxisIndex:gi,yAxisIndex:gi,data,renderItem,silent:true,progressive:0,animation:false},extra||{}));}
function renderRibbon(p,api){const a=api.coord([api.value(0),1]),b=api.coord([api.value(1),1]),c=api.coord([api.value(3),0]),d=api.coord([api.value(2),0]);return {type:'polygon',shape:{points:[a,b,c,d]},style:{fill:identityColors[api.value(4)]}};}
function renderGene(p,api){const s=api.value(0),e=api.value(1),dir=api.value(2),col=geneColors[api.value(3)];const h=Math.min(.32,(e-s));const tip=dir>0?e:s,neck=dir>0?e-h:s+h,tail=dir>0?s:e;const pts=[[tail,-.58],[neck,-.58],[neck,-1],[tip,0],[neck,1],[neck,.58],[tail,.58]].map(q=>api.coord(q));return {type:'polygon',shape:{points:pts},style:{fill:col}};}
function renderDot(p,api){const a=api.coord([api.value(0),api.value(2)]),b=api.coord([api.value(1),api.value(3)]);return {type:'line',shape:{x1:a[0],y1:a[1],x2:b[0],y2:b[1]},style:{stroke:identityColors[api.value(4)],lineWidth:3}};}
// ---------- colour key A ----------
{const gi=panel({left:281,top:106,width:545,height:14},{type:'value',min:0,max:6,axisLine:{show:false},axisTick:{show:false},splitLine:{show:false},axisLabel:{show:true,customValues:[0,1,2,3,4,5,6],margin:4,formatter:v=>identityTicks[v],fontFamily:FONT,fontWeight:'bold',fontSize:15.5,color:'#111'}},hiddenVal(0,1));
custom(gi,identityColors.map((c,i)=>[i,i+1]),(p,api)=>{const a=api.coord([api.value(0),1]),b=api.coord([api.value(1),0]);return {type:'rect',shape:{x:a[0],y:a[1],width:b[0]-a[0],height:b[1]-a[1]},style:{fill:identityColors[p.dataIndex]}};});}
// ---------- genome map ----------
panel({left:TRACK_LEFT,top:198,width:genomeSizesKb[0]*PXKB,height:1},kbAxis(genomeSizesKb[0]),hiddenVal(0,1));
series.push({type:'line',xAxisIndex:grid.length-1,yAxisIndex:grid.length-1,data:[],silent:true});
const geneSets=[genes1,genes2,genes3,genes4,genes5,genes6];
const ribbonSets=[ribbons1,ribbons2,ribbons3,ribbons4,ribbons5];
const trackCenters=[241.7,380,518,656,794,932];
const bandTops=[257,395,533,671,809];
geneSets.forEach((g,i)=>{const gi=panel({left:TRACK_LEFT,top:trackCenters[i]-12.5,width:genomeSizesKb[0]*PXKB,height:25},hiddenVal(0,genomeSizesKb[0]),hiddenVal(-1,1));
 const first=g[0][0],last=Math.max(genomeSizesKb[i],g[g.length-1][1]);
 series.push({type:'line',xAxisIndex:gi,yAxisIndex:gi,data:[[first,0],[last,0]],showSymbol:false,symbol:'none',silent:true,animation:false,lineStyle:{color:'#b4b4b4',width:2}});
 custom(gi,g.map(q=>[q[0],q[1],q[2]||1,q[3]===undefined?8:q[3]]),renderGene,{z:3});});
ribbonSets.forEach((r,i)=>{const len=genomeSizesKb[i+1];const gi=panel({left:TRACK_LEFT,top:bandTops[i],width:len*PXKB,height:79},kbAxis(len),hiddenVal(0,1));custom(gi,r,renderRibbon);});
// ---------- dot plots ----------
const dotTops=[239,378,517,655,794];
ribbonSets.forEach((r,i)=>{const gl={show:true,lineStyle:{color:'#d6d6d6',width:1.5}};
 const gi=panel({left:280,top:dotTops[i],width:135,height:118,show:true,borderColor:'#7f7f7f',borderWidth:2.5,backgroundColor:'#fff'},
 {type:'value',min:0,max:genomeSizesKb[i],interval:10,axisLine:{show:false},axisTick:{show:false},axisLabel:{show:false},splitLine:gl,name:genomeNames[i],nameLocation:'middle',nameGap:5,nameTextStyle:{fontFamily:FONT,fontWeight:'bold',fontSize:11.5,color:'#111'}},
 {type:'value',min:0,max:genomeSizesKb[i+1],interval:10,axisLine:{show:false},axisTick:{show:false},axisLabel:{show:false},splitLine:gl,name:genomeNames[i+1],nameLocation:'middle',nameGap:3,nameRotate:90,nameTextStyle:{fontFamily:FONT,fontWeight:'bold',fontSize:11.5,color:'#111'}});
 custom(gi,r,renderDot,{z:3});});
// ---------- tree ----------
const treeLines=[],treeTexts=[];let leafIndex=0;
function walk(n,parentR){const label=n[0];if(typeof n[1]==='string'){const a=leafFirstAngle-leafAngleStep*leafIndex++;treeLines.push({k:'s',r0:parentR,r1:leafTipRadius,a});treeTexts.push({k:'b',r:(parentR+leafTipRadius)/2,a,t:label});treeTexts.push({k:'l',r:leafTipRadius+3,a,t:n[1]});return a;}
 const r=n[1];const kids=n.slice(2).map(c=>walk(c,r));const first=kids[0],last=kids[kids.length-1],a=(first+last)/2;treeLines.push({k:'a',r,a0:first,a1:last});treeLines.push({k:'s',r0:parentR,r1:r,a});if(label)treeTexts.push({k:'b',r:(parentR+r)/2,a,t:label});return a;}
walk(treeRoot,rootRadius);
const norm=a=>((a%360)+360)%360;
series.push({type:'pie',center:[654.5,1560.5],radius:[260,390],startAngle:152.7,clockwise:true,silent:true,animation:false,z:1,label:{show:false},labelLine:{show:false},emphasis:{disabled:true},data:cladeSpans.map((v,i)=>({value:v,name:'clade'+i,itemStyle:{color:cladeColors[i]}}))});
series.push({type:'custom',coordinateSystem:'polar',polarIndex:0,silent:true,animation:false,progressive:0,z:4,data:treeLines.map(b=>[b.r0||b.r,norm(b.a===undefined?b.a0:b.a)]),renderItem(p,api){const b=treeLines[p.dataIndex];if(b.k==='s'){const s=api.coord([b.r0,norm(b.a)]),e=api.coord([b.r1,norm(b.a)]);return {type:'line',shape:{x1:s[0],y1:s[1],x2:e[0],y2:e[1]},style:{stroke:'#000',lineWidth:1.5,lineCap:'round'}};}
 const c=api.coord([0,0]),q=api.coord([b.r,0]),R=Math.hypot(q[0]-c[0],q[1]-c[1]);return {type:'arc',shape:{cx:c[0],cy:c[1],r:R,startAngle:-b.a0*Math.PI/180,endAngle:-b.a1*Math.PI/180,clockwise:true},style:{stroke:'#000',lineWidth:1.5,fill:'none'}};}});
series.push({type:'custom',coordinateSystem:'polar',polarIndex:0,silent:true,animation:false,progressive:0,z:5,data:treeTexts.map(b=>[b.r,norm(b.a)]),renderItem(p,api){const b=treeTexts[p.dataIndex],n=norm(b.a),q=api.coord([b.r,n]),right=n<90||n>270,rot=(right?b.a:b.a+180)*Math.PI/180;
 if(b.k==='l'){const col=highlightBlue.includes(b.t)?'#1010f0':highlightRed.includes(b.t)?'#f01010':'#0a0a0a';return {type:'text',x:q[0],y:q[1],rotation:rot,style:{text:b.t,x:0,y:0,align:right?'left':'right',textAlign:right?'left':'right',verticalAlign:'middle',textVerticalAlign:'middle',fontFamily:FONT,fontWeight:'bold',fontSize:16.5,fill:col}};}
 return {type:'text',x:q[0],y:q[1],rotation:rot,style:{text:b.t,x:0,y:-1,align:'center',textAlign:'center',verticalAlign:'bottom',textVerticalAlign:'bottom',fontFamily:FONT,fontSize:7.6,fill:'#222'}};}});
// ---------- genome length bars ----------
{const gi=panel({left:1116,top:1158,width:720,height:72},{type:'category',data:phageNames,axisLine:{show:false},axisTick:{show:false},axisLabel:{show:false}},{type:'value',min:0,max:141000,splitLine:{show:false},axisLine:{show:true,lineStyle:{color:'#444',width:1}},axisTick:{show:false},axisLabel:{show:true,customValues:[0,50000,100000],margin:4,formatter:v=>v===100000?'1e+05':String(v),fontFamily:FONT,fontSize:6.5,color:'#555'}});
series.push({type:'bar',xAxisIndex:gi,yAxisIndex:gi,data:genomeLengths,barWidth:8.5,silent:true,animation:false,itemStyle:{color:'#7f7f7f'}});}
// ---------- heat map ----------
function simAt(r,c){if(r===c)return 100;if(r<=48){if(c<=48)return simRows[r][c-r-1]??0;return simRefCols[r][c-49]??0;}return simRefRows[r-49][c-r-1]??0;}
const cells=[];for(let r=0;r<60;r++)for(let c=0;c<60;c++)cells.push([c,r]);
{const gi=panel({left:1116,top:1232,width:720,height:720},{type:'category',data:phageNames,axisLine:{show:false},axisTick:{show:false},axisLabel:{show:true,interval:0,rotate:90,margin:3,fontFamily:FONT,fontSize:7.5,color:'#555'}},{type:'category',data:phageNames,inverse:true,position:'right',axisLine:{show:false},axisTick:{show:false},axisLabel:{show:true,interval:0,margin:2,fontFamily:FONT,fontSize:8,color:'#444'}});
custom(gi,cells,(p,api)=>{const c=api.value(0),r=api.value(1),pt=api.coord([c,r]),sz=api.size([1,1]),w=sz[0],h=sz[1],x=pt[0]-w/2,y=pt[1]-h/2,kids=[];
 if(c>=r){const v=simAt(r,c);kids.push({type:'rect',shape:{x,y,width:w+.3,height:h+.3},style:{fill:ramp(simRampStops,v)}});
  const txt=v>=99.95?'100.0':v.toFixed(1);kids.push({type:'text',style:{text:txt,x:pt[0],y:pt[1],align:'center',textAlign:'center',verticalAlign:'middle',textVerticalAlign:'middle',fontFamily:FONT,fontSize:4.7,fill:c>48&&r<=48||r>48&&v<5?'#777':'#2a3a44'}});}
 else{const frac=c===0||r>=49?.03:alignedFractionByRow[r];const upper=simAt(c,r);const vis=r<=48||upper>0;const ratio=Math.min(genomeLengths[r],genomeLengths[c])/Math.max(genomeLengths[r],genomeLengths[c]);
  kids.push({type:'rect',shape:{x,y,width:w+.3,height:h/2+.2},style:{fill:ramp(fracRampStops,frac)}});
  kids.push({type:'rect',shape:{x,y:y+h/2,width:w+.3,height:h/2+.3},style:{fill:vis?ramp(ratioRampStops,ratio):'#fff'}});
  const lab=(t,yy,f)=>({type:'text',style:{text:t,x:pt[0],y:yy,align:'center',textAlign:'center',verticalAlign:'middle',textVerticalAlign:'middle',fontFamily:FONT,fontSize:3,fill:f}});
  kids.push(lab(frac.toFixed(1),y+3,'#b09a88'));kids.push(lab(vis?ratio.toFixed(1):'0.0',y+9,vis&&ratio<.6?'#ddd':'#999'));}
 return {type:'group',children:kids};},{z:3});}
// ---------- stripe keys ----------
const stripeFractions=[];for(let k=0;k<72;k++)stripeFractions.push(k/72);
function stripeKey(left,top,width,height,ticks,pal,labelFmt,max){const gi=panel({left,top,width,height},{type:'value',min:0,max,axisLine:{show:false},splitLine:{show:false},axisTick:{show:false},axisLabel:{show:true,customValues:ticks,margin:2,fontFamily:FONT,fontSize:21,color:'#111',hideOverlap:false,formatter:labelFmt}},hiddenVal(0,1));
 custom(gi,stripeFractions.map(f=>[f*max]),(p,api)=>{const v=api.value(0),a=api.coord([v,1]),b=api.coord([v+max/72*.62,0]);return {type:'rect',shape:{x:a[0],y:a[1],width:b[0]-a[0],height:b[1]-a[1]},style:{fill:pal(v)}};});}
stripeKey(1177,1051,286,21,[0,.25,.5,.75,1],v=>ramp(fracRampStops,v),v=>String(v),1);
stripeKey(1470,1051,290,21,[0,.25,.5,.75,1],v=>ramp([[0,'#000000'],[.5,'#555555'],[.75,'#a8a8a8'],[1,'#ffffff']],v),v=>String(v),1);
stripeKey(1177,1111,291,22,simKeyTickPlaces,v=>ramp(simRampStops,v),v=>String(simKeyTicks[simKeyTickPlaces.indexOf(v)]),100);
// ---------- static text ----------
const T=(x,y,text,size,opt)=>Object.assign({type:'text',x,y,silent:true,z:20,style:Object.assign({text,fontFamily:FONT,fontSize:size,fill:'#111',align:'left',textAlign:'left',verticalAlign:'middle',textVerticalAlign:'middle'},(opt&&opt.style)||{})},opt&&opt.el||{});
const C={align:'center',textAlign:'center'};
const els=[T(12,23,'A',40,{style:{fontWeight:'bold',fill:'#000'}}),T(14,1030,'B',38,{style:{fontWeight:'bold',fill:'#000'}}),T(973,1038,'C',38,{style:{fontWeight:'bold',fill:'#000'}}),
T(553,95,'tBLASTx %-identity',18,{style:Object.assign({fontWeight:'bold'},C)})];
const nameY=[239,380,515,655,792,928],ntY=[254,395,531,670,808,943];
genomeNames.forEach((n,i)=>{els.push(T(484,nameY[i],n,20,{style:Object.assign({fontWeight:'bold'},C)}));els.push(T(484,ntY[i],genomeSizeLabels[i],15,{style:Object.assign({fontWeight:'bold'},C)}));});
// legend A
els.push({type:'rect',silent:true,z:19,shape:{x:1052,y:30,width:548,height:123},style:{fill:'#fff',stroke:'#000',lineWidth:2}});
const legL=[['Replication / Recombination','#ffee00',48],['Lysogeny','#0aa84f',77],['Packing','#5b9bd5',106],['Lysis','#ee1c25',134]];
legL.forEach(l=>{els.push({type:'rect',silent:true,z:20,shape:{x:1057,y:l[2]-8,width:18,height:16},style:{fill:l[1]}});els.push(T(1086,l[2],l[0],16,{style:{fontWeight:'bold'}}));});
const rich={i:{fontFamily:FONT,fontStyle:'italic',fontWeight:'bold',fontSize:16,fill:'#111'},b:{fontFamily:FONT,fontWeight:'bold',fontSize:16,fill:'#111'},s:{fontFamily:'"Liberation Serif",serif',fontSize:13.5,fill:'#111'},t:{fontFamily:'"Liberation Serif",serif',fontSize:9,fill:'#111',padding:[4,0,0,0]}};
const legR=[['{i|gp}{b|1  (Integrase)}','#fdb813',48],['{i|gp}{b|15   (repressor)}','#00aeef',76],['{i|gp}{b|17 (}{s|N}{t|λ}{b|-antiterminator)}','#c71fb9',104],['{b|Head/tail}','#e91faa',135]];
legR.forEach(l=>{els.push({type:'rect',silent:true,z:20,shape:{x:1338,y:l[2]-8,width:18,height:16},style:{fill:l[1]}});els.push(T(1364,l[2],l[0],16,{style:{rich}}));});
// legend B
els.push({type:'rect',silent:true,z:19,shape:{x:8,y:1140,width:363,height:100},style:{fill:'#fff',stroke:'#222',lineWidth:1}});
els.push({type:'rect',silent:true,z:20,shape:{x:17,y:1151,width:27,height:28},style:{fill:'#9fc5e8'}});
els.push({type:'polygon',silent:true,z:20,shape:{points:[[17,1194],[44,1194],[17,1221]]},style:{fill:'#b294e0'}});
els.push({type:'polygon',silent:true,z:20,shape:{points:[[44,1194],[44,1221],[17,1221]]},style:{fill:'#eec7e0'}});
els.push(T(56,1164,'Reference: Siphovirus phages (12)',20,{style:{fill:'#222'}}));
els.push(T(56,1212,'{a|mEp}{c|immI}{a| members (48)}',20,{style:{rich:{a:{fontFamily:FONT,fontSize:20,fill:'#222'},c:{fontFamily:FONT,fontSize:12.5,fill:'#222',padding:[7,0,0,0]}}}}));
// legend C titles
els.push(T(1177,1040,'Aligned genome fraction',22));els.push(T(1472,1040,'Genome length ratio',22));els.push(T(1177,1101,'Intergenomic similarity',22));
els.push(T(1846,1178,'Genome_length',14,{el:{rotation:-Math.PI/2},style:Object.assign({},C)}));
const chart=echarts.init(document.getElementById('c'),null,{renderer:'canvas',width:1902,height:2017});
chart.setOption({animation:false,backgroundColor:'#fff',grid,xAxis,yAxis,
 polar:{center:[652,1557.5],radius:[0,400]},radiusAxis:{polarIndex:0,type:'value',min:0,max:400,show:false,axisLine:{show:false},axisTick:{show:false},axisLabel:{show:false},splitLine:{show:false}},angleAxis:{polarIndex:0,type:'value',min:0,max:360,startAngle:0,clockwise:false,show:false,axisLine:{show:false},axisTick:{show:false},axisLabel:{show:false},splitLine:{show:false}},
 series,graphic:{elements:els}});
</script></body></html>
